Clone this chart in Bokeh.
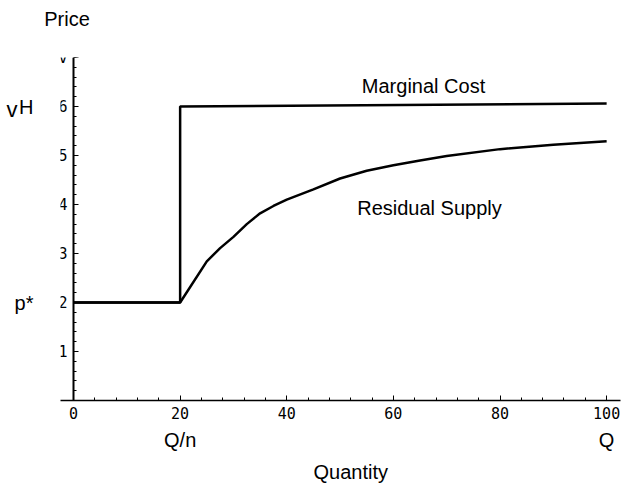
from bokeh.plotting import figure
from bokeh.models import Range1d, FixedTicker, Label, LinearAxis
from bokeh.embed import file_html
from bokeh.resources import INLINE

# Data
mc_q = [0, 20, 20, 100]
mc_p = [2, 2, 6, 6.06]
rs_q = [0, 20, 25, 27.5, 30, 32.5, 35, 37.5, 40, 45, 50, 55, 60, 65, 70, 80, 90, 100]
rs_p = [2, 2, 2.84, 3.11, 3.34, 3.60, 3.82, 3.97, 4.10, 4.31, 4.53, 4.69, 4.80, 4.90,
        4.99, 5.13, 5.22, 5.29]
x_ticks = [0, 20, 40, 60, 80, 100]
y_ticks = [1, 2, 3, 4, 5, 6, 7]
y_tick_labels = {7: "v"}
q_marks = {20: "Q/n", 100: "Q"}

FONT = "Liberation Sans"
TICK_FONT = "DejaVu Sans Mono"

W, H = 621, 485
p = figure(width=W, height=H, output_backend="svg", toolbar_location=None,
           x_range=Range1d(-2.44, 102.6), y_range=Range1d(0, 7.0),
           min_border_left=60, min_border_right=1, min_border_top=57,
           min_border_bottom=84)
p.outline_line_color = None
p.xgrid.visible = False
p.ygrid.visible = False
p.background_fill_color = "white"
p.border_fill_color = "white"

p.line(mc_q, mc_p, line_color="black", line_width=2.5)
p.line(rs_q, rs_p, line_color="black", line_width=2.5)

xa = p.xaxis[0]
xa.ticker = FixedTicker(ticks=x_ticks, minor_ticks=[i * 4 for i in range(26)])
ya = p.yaxis[0]
ya.ticker = FixedTicker(ticks=y_ticks, minor_ticks=[i * 0.2 for i in range(36)])
ya.fixed_location = 0
ya.major_label_overrides = y_tick_labels

for ax, lw in ((xa, 1.6), (ya, 2.0)):
    ax.axis_line_color = "black"
    ax.axis_line_width = lw
    ax.major_tick_in = 5
    ax.major_tick_out = 0
    ax.minor_tick_in = 3
    ax.minor_tick_out = 0
    ax.major_tick_line_color = "black"
    ax.minor_tick_line_color = "black"
    ax.major_label_text_font = TICK_FONT
    ax.major_label_text_font_size = "15px"
    ax.major_label_text_color = "black"
xa.major_label_standoff = 6
ya.major_label_standoff = 6


def text_axis(side, labels, standoff, size="20px"):
    """An axis with no line or ticks, used only to place annotation texts."""
    ax = LinearAxis(ticker=FixedTicker(ticks=list(labels.keys()), minor_ticks=[]),
                    major_label_overrides=labels,
                    axis_line_color=None, major_tick_line_color=None,
                    minor_tick_line_color=None, major_label_standoff=standoff,
                    major_tick_in=0, major_tick_out=0,
                    minor_tick_in=0, minor_tick_out=0,
                    major_label_text_font=FONT, major_label_text_font_size=size,
                    major_label_text_color="black")
    p.add_layout(ax, side)
    return ax


text_axis("left", {6.0: "H", 1.99: "p*"}, 27, size="20px")
text_axis("left", {5.94: "v"}, -6, size="22px")
text_axis("below", q_marks, 7)
text_axis("below", {52: "Quantity"}, 7)
text_axis("above", {-1.22: "Price"}, 28)


def lab(x, y, t, size="20px", align="center"):
    # x, y in canvas pixels from the top-left corner
    p.add_layout(Label(x=x, y=y, x_units="canvas", y_units="canvas", text=t,
                       text_font=FONT, text_font_size=size,
                       text_align=align, text_baseline="alphabetic",
                       text_color="black"))


lab(423, 85, "Marginal Cost")
lab(429, 207, "Residual Supply")

open("out.html", "w").write(file_html(p, INLINE))
